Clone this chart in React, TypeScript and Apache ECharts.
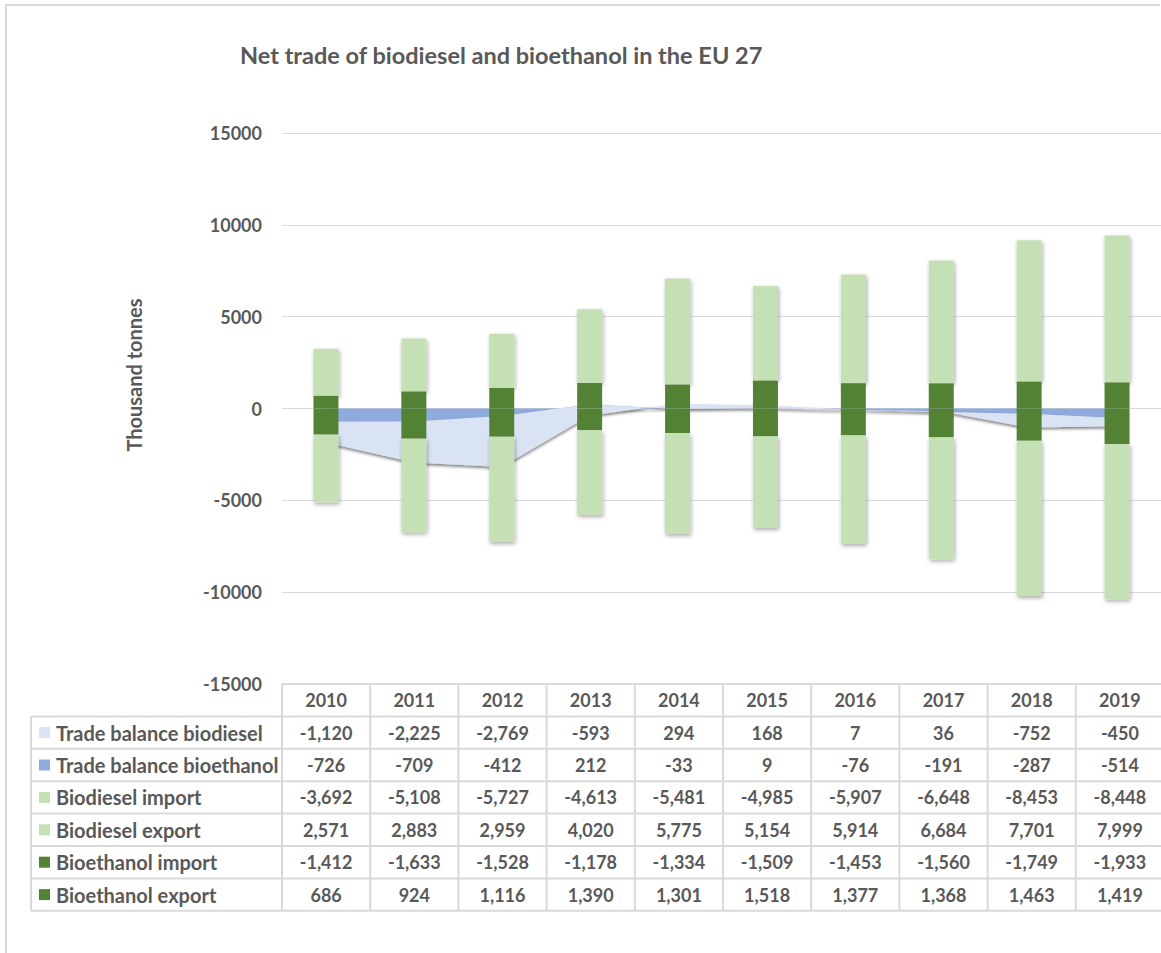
import React, { useEffect, useRef } from "react";
import * as echarts from "echarts";

const years = ["2010", "2011", "2012", "2013", "2014", "2015", "2016", "2017", "2018", "2019"];
const tradeBalanceBiodiesel = [-1120, -2225, -2769, -593, 294, 168, 7, 36, -752, -450];
const tradeBalanceBioethanol = [-726, -709, -412, 212, -33, 9, -76, -191, -287, -514];
const biodieselImport = [-3692, -5108, -5727, -4613, -5481, -4985, -5907, -6648, -8453, -8448];
const biodieselExport = [2571, 2883, 2959, 4020, 5775, 5154, 5914, 6684, 7701, 7999];
const bioethanolImport = [-1412, -1633, -1528, -1178, -1334, -1509, -1453, -1560, -1749, -1933];
const bioethanolExport = [686, 924, 1116, 1390, 1301, 1518, 1377, 1368, 1463, 1419];
const yTicks = { min: -15000, max: 15000, interval: 5000 };

const C_BAL_BD = "#DAE3F3";
const C_BAL_BE = "#8FAADC";
const C_BD = "#C5E0B4";
const C_BE = "#548235";
const TXT = "#595959";
const LINE = "#D9D9D9";
const FONT = "Lato, 'Open Sans', sans-serif";

const rows = [
  { name: "Trade balance biodiesel", color: C_BAL_BD, values: tradeBalanceBiodiesel },
  { name: "Trade balance bioethanol", color: C_BAL_BE, values: tradeBalanceBioethanol },
  { name: "Biodiesel import", color: C_BD, values: biodieselImport },
  { name: "Biodiesel export", color: C_BD, values: biodieselExport },
  { name: "Bioethanol import", color: C_BE, values: bioethanolImport },
  { name: "Bioethanol export", color: C_BE, values: bioethanolExport },
];

const GRID_LEFT = 282;
const GRID_TOP = 133;
const GRID_W = 882;
const GRID_H = 551;
const TABLE_LEFT = 31;
const ROW_H = 32.4;

export default function App() {
  const ref = useRef<HTMLDivElement>(null);
  useEffect(() => {
    if (!ref.current) return;
    const chart = echarts.init(ref.current, null, { renderer: "svg" });
    const barShadow = {
      shadowBlur: 4,
      shadowColor: "rgba(0,0,0,0.35)",
      shadowOffsetX: 1,
      shadowOffsetY: 2,
    };
    chart.setOption({
      animation: false,
      backgroundColor: "#fff",
      grid: { left: GRID_LEFT, top: GRID_TOP, width: GRID_W, height: GRID_H },
      xAxis: {
        type: "category",
        data: years,
        boundaryGap: true,
        axisLine: { show: true, onZero: true, lineStyle: { color: LINE, width: 1 } },
        axisTick: { show: false },
        axisLabel: { show: false },
      },
      yAxis: {
        type: "value",
        min: yTicks.min,
        max: yTicks.max,
        interval: yTicks.interval,
        axisLine: { show: false },
        axisTick: { show: false },
        splitLine: { lineStyle: { color: LINE, width: 1 } },
        axisLabel: {
          margin: 20,
          color: TXT,
          fontFamily: FONT,
          fontWeight: "bold",
          fontSize: 18,
          formatter: (v: number) => String(v),
        },
      },
      series: [
        {
          name: "Trade balance bioethanol",
          type: "line",
          stack: "balance",
          stackStrategy: "all",
          data: tradeBalanceBioethanol,
          symbol: "none",
          lineStyle: { width: 0 },
          areaStyle: { color: C_BAL_BE, opacity: 1, shadowBlur: 3, shadowColor: "rgba(0,0,0,0.45)", shadowOffsetY: 2 },
          z: 1,
        },
        {
          name: "Trade balance biodiesel",
          type: "line",
          stack: "balance",
          stackStrategy: "all",
          data: tradeBalanceBiodiesel,
          symbol: "none",
          lineStyle: { width: 0 },
          areaStyle: { color: C_BAL_BD, opacity: 1, shadowBlur: 3, shadowColor: "rgba(0,0,0,0.5)", shadowOffsetY: 2 },
          z: 1,
        },
        {
          name: "Bioethanol export",
          type: "bar",
          stack: "trade",
          data: bioethanolExport,
          barWidth: 25,
          itemStyle: { color: C_BE },
          z: 3,
        },
        {
          name: "Bioethanol import",
          type: "bar",
          stack: "trade",
          data: bioethanolImport,
          barWidth: 25,
          itemStyle: { color: C_BE },
          z: 3,
        },
        {
          name: "Biodiesel export",
          type: "bar",
          stack: "trade",
          data: biodieselExport,
          barWidth: 25,
          itemStyle: { color: C_BD, ...barShadow },
          z: 2,
        },
        {
          name: "Biodiesel import",
          type: "bar",
          stack: "trade",
          data: biodieselImport,
          barWidth: 25,
          itemStyle: { color: C_BD, ...barShadow },
          z: 2,
        },
      ],
    });

    const colW = GRID_W / years.length;
    const headerTop = GRID_TOP + GRID_H;
    const bodyTop = headerTop + ROW_H;
    const tableRight = GRID_LEFT + GRID_W;
    const els: any[] = [];
    const ls = { stroke: LINE, lineWidth: 2 };
    els.push({ type: "line", shape: { x1: 5, y1: 5, x2: 1160, y2: 5 }, style: { stroke: LINE, lineWidth: 2 } });
    els.push({ type: "line", shape: { x1: 6, y1: 5, x2: 6, y2: 953 }, style: { stroke: LINE, lineWidth: 2 } });
    els.push({ type: "line", shape: { x1: GRID_LEFT, y1: headerTop, x2: tableRight, y2: headerTop }, style: ls });
    for (let r = 0; r <= rows.length; r++) {
      const y = bodyTop + r * ROW_H;
      els.push({ type: "line", shape: { x1: TABLE_LEFT, y1: y, x2: tableRight, y2: y }, style: ls });
    }
    els.push({ type: "line", shape: { x1: TABLE_LEFT, y1: bodyTop, x2: TABLE_LEFT, y2: bodyTop + rows.length * ROW_H }, style: ls });
    for (let c = 0; c <= years.length; c++) {
      const x = GRID_LEFT + c * colW;
      els.push({ type: "line", shape: { x1: x, y1: headerTop, x2: x, y2: bodyTop + rows.length * ROW_H }, style: ls });
    }
    const textBase = { fill: TXT, fontFamily: FONT, fontWeight: "bold", fontSize: 18 };
    years.forEach((yr, i) => {
      els.push({
        type: "text",
        x: GRID_LEFT + (i + 0.5) * colW,
        y: headerTop + ROW_H / 2,
        style: { ...textBase, text: yr, align: "center", verticalAlign: "middle" },
      });
    });
    rows.forEach((row, r) => {
      const cy = bodyTop + (r + 0.5) * ROW_H;
      els.push({ type: "rect", shape: { x: 39, y: cy - 5.5, width: 11, height: 11 }, style: { fill: row.color } });
      els.push({
        type: "text",
        x: 56,
        y: cy,
        style: { ...textBase, fontSize: 20, text: row.name, align: "left", verticalAlign: "middle" },
      });
      row.values.forEach((v, i) => {
        els.push({
          type: "text",
          x: GRID_LEFT + (i + 0.5) * colW,
          y: cy,
          style: { ...textBase, text: v.toLocaleString("en-US"), align: "center", verticalAlign: "middle" },
        });
      });
    });
    els.push({
      type: "text",
      x: 240,
      y: 55,
      style: { ...textBase, fontSize: 23.5, text: "Net trade of biodiesel and bioethanol in the EU 27", align: "left", verticalAlign: "middle" },
    });
    els.push({
      type: "text",
      x: 134,
      y: 375,
      rotation: Math.PI / 2,
      style: { ...textBase, fontSize: 20, text: "Thousand tonnes", align: "center", verticalAlign: "middle" },
    });
    chart.setOption({ graphic: { elements: els } });
    return () => chart.dispose();
  }, []);
  return (
    <div
      ref={ref}
      style={{ position: "fixed", left: 0, top: 0, width: 1161, height: 953, background: "#fff" }}
    />
  );
}
